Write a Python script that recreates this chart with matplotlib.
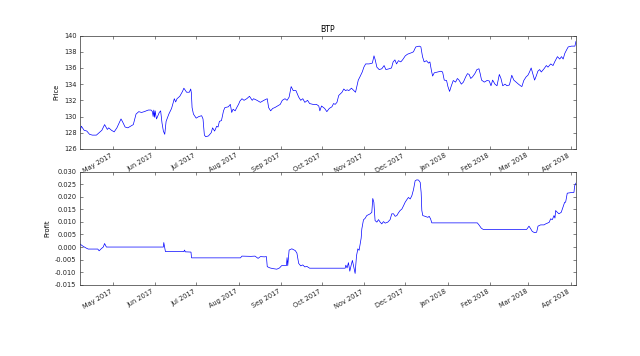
import numpy as np
import matplotlib
matplotlib.use("Agg")
import matplotlib.pyplot as plt
import matplotlib.dates as mdates
from datetime import datetime

# ---- data (x = days since 2017-04-07) ----
start_date = datetime(2017, 4, 7)
end_day = 362.9

price_days = [0, 1, 3, 5, 7, 9, 12, 14, 16, 18, 20, 21, 23, 25, 27, 30, 31, 33, 35, 37, 39,
              41, 43, 45, 47, 50, 52, 53, 53.5, 54, 54.5, 55, 55.5, 56, 58, 59, 60, 61, 62, 63,
              65, 67, 69, 70, 71, 73, 75, 76, 78, 80, 81, 81.5, 82, 83, 85, 87, 89, 90, 91, 92,
              94, 96, 97, 98.5, 100, 101, 102, 103.5, 105, 106, 108.5, 110, 111, 112, 113.5,
              115, 116, 117, 118.5, 120, 122, 124, 126, 127, 129.5, 132, 134.5, 137, 138,
              139.5, 141, 142.5, 144.5, 146.5, 148, 150, 151.5, 153, 154.5, 156, 158, 160,
              161.5, 163, 164.5, 166.5, 168, 170.5, 173, 174.7, 175.5, 176.7, 179, 180.6,
              182.4, 184.3, 185.5, 186.7, 188, 189.3, 190.5, 191.7, 193, 194.3, 195.5, 196.7,
              198.6, 200.4, 201.6, 202.4, 203.6, 204.8, 206.5, 207.7, 209, 211.5, 213.9, 215.1,
              216, 217.2, 218.9, 220.8, 222.5, 223.8, 226.2, 227.9, 229.1, 230.4, 231.6, 233,
              234.7, 236, 238, 239.6, 241.3, 242.8, 244, 244.8, 245.7, 248.2, 249.4, 250.6,
              251.8, 253.5, 255, 256, 257.2, 258, 259.2, 261.7, 264.1, 265.3, 266.5, 268.2,
              269.2, 270.4, 271.7, 273.1, 274.8, 276.1, 277.3, 279, 280.5, 282.2, 283.5, 284.7,
              285.9, 287.2, 288.9, 290.4, 291.9, 292.8, 293.8, 295.8, 297.8, 299.4, 300.7,
              301.9, 303.6, 305.1, 306.8, 308, 309.3, 311, 312.4, 314.2, 315.9, 317.4, 319.1,
              320.8, 322.3, 323.3, 324.7, 326.4, 327.7, 328.9, 330.1, 331.3, 332.6, 333.8, 335,
              336.3, 337.5, 339.5, 341.2, 342.4, 344.4, 346.1, 347.3, 349.3, 351, 352.3, 353.5,
              354.7, 355.9, 357.2, 359.6, 362.1, 362.6, 362.9]
price_vals = [128.2, 128.8, 128.3, 128.2, 127.8, 127.7, 127.7, 128.0, 128.3, 129.0, 128.4, 128.6,
              128.3, 128.1, 128.6, 129.7, 129.4, 128.7, 128.6, 128.8, 129.0, 130.3, 130.6, 130.5,
              130.6, 130.8, 130.8, 130.6, 130.0, 130.8, 129.9, 130.7, 130.1, 129.7, 130.5, 130.7,
              129.2, 128.2, 127.8, 129.4, 130.3, 131.0, 132.2, 131.8, 132.2, 132.5, 133.1, 133.5,
              133.0, 133.0, 133.4, 132.9, 131.1, 130.3, 129.8, 130.0, 130.1, 129.7, 127.7, 127.5,
              127.6, 128.0, 128.6, 128.2, 128.8, 128.7, 129.4, 129.5, 130.7, 131.1, 131.2, 131.5,
              130.5, 130.9, 130.7, 131.2, 131.5, 131.9, 132.2, 132.0, 132.2, 132.5, 132.0, 132.2,
              132.0, 131.75, 132.0, 132.2, 131.1, 130.7, 131.0, 131.1, 131.3, 131.5, 132.0,
              132.2, 132.0, 132.4, 133.7, 133.2, 133.2, 132.4, 132.0, 132.2, 131.75, 132.0,
              131.6, 131.5, 131.5, 131.3, 130.7, 131.3, 131.0, 130.6, 131.0, 131.2, 131.6,
              131.5, 131.75, 132.6, 132.8, 133.0, 133.4, 133.2, 133.3, 133.2, 133.5, 133.2,
              133.0, 133.6, 134.5, 134.9, 135.5, 136.1, 136.5, 136.5, 136.6, 137.5, 137.0,
              136.1, 135.8, 135.9, 136.3, 135.8, 135.9, 136.0, 136.75, 137.0, 136.5, 136.9,
              136.75, 137.0, 137.5, 137.7, 137.8, 137.9, 138.0, 138.3, 138.6, 138.7, 138.6,
              137.4, 136.75, 136.9, 136.6, 136.75, 135.6, 135.0, 135.4, 135.5, 135.6, 135.5,
              134.5, 134.45, 133.7, 133.1, 133.8, 134.45, 134.25, 134.7, 134.5, 134.0, 134.25,
              134.9, 135.3, 135.2, 134.7, 134.9, 135.3, 135.8, 135.9, 135.3, 134.5, 134.25,
              134.45, 134.4, 133.8, 134.5, 134.0, 133.8, 135.2, 134.7, 133.8, 134.0, 133.8,
              133.9, 135.1, 134.5, 134.25, 134.0, 133.8, 133.7, 134.45, 134.9, 135.1, 135.5,
              136.0, 135.3, 134.5, 135.0, 135.6, 135.8, 135.5, 135.9, 136.3, 136.1, 136.5,
              136.3, 136.75, 137.4, 137.1, 137.4, 137.1, 137.8, 138.2, 138.6, 138.7, 138.7,
              139.1, 139.3]

profit_days = [0, 2, 4.5, 6, 13, 14, 15.5, 17, 18, 19.3, 61, 61.3, 62.5, 76, 76.5, 77, 81.2,
               81.6, 117.4, 118.5, 125, 128, 130.3, 132, 135, 136.4, 137, 139, 141.5, 144, 146,
               147.5, 151, 151.5, 152, 153, 155, 157.5, 158.7, 160, 161.5, 163, 164.5, 166, 168,
               194.0, 194.5, 195.4, 196.4, 197.4, 198.4, 199.3, 200.6, 201.3, 202.3, 203.3,
               204.2, 205.7, 206.2, 207.4, 208.6, 209.8, 212.3, 213.5, 214.2, 215.0, 215.9,
               217.2, 218.4, 219.6, 220.8, 222.0, 223.3, 225.2, 226.9, 228.1, 229.4, 230.6,
               231.8, 233.0, 234.2, 235.5, 236.7, 237.9, 239.1, 240.3, 241.6, 242.8, 244.0,
               245.2, 246.4, 247.7, 248.9, 249.6, 250.1, 250.8, 252.5, 254.5, 255.5, 256.5,
               257.4, 290.7, 291.9, 293.6, 295.0, 326.8, 328.5, 329.7, 330.9, 332.6, 334.1,
               335.1, 337.0, 339.5, 340.7, 342.4, 343.4, 344.3, 345.6, 346.8, 347.5, 348.0,
               349.2, 350.4, 352.1, 353.6, 354.6, 355.3, 356.5, 360.2, 361.4, 361.9, 362.9]
profit_vals = [0.0012, 0.0004, -0.0004, -0.0008, -0.0008, -0.0015, -0.0007, 0.0, 0.0014, 0.0,
               0.0, 0.0018, -0.0018, -0.0018, -0.0012, -0.0019, -0.0020, -0.0043, -0.0043,
               -0.0036, -0.0037, -0.0036, -0.0045, -0.0038, -0.0039, -0.0038, -0.0078, -0.0083,
               -0.0086, -0.0088, -0.0083, -0.0074, -0.0074, -0.0042, -0.0074, -0.0012, -0.0007,
               -0.0014, -0.0024, -0.0065, -0.0075, -0.0071, -0.0079, -0.0077, -0.0084,
               -0.0084, -0.0072, -0.0083, -0.0062, -0.0096, -0.0072, -0.0053, -0.0086, -0.0105,
               -0.0035, -0.0007, -0.0013, 0.0035, 0.0072, 0.0108, 0.0114, 0.0125, 0.0132,
               0.0138, 0.0193, 0.0178, 0.0105, 0.0099, 0.0109, 0.0099, 0.0092, 0.0101, 0.0095,
               0.0099, 0.0109, 0.0132, 0.0132, 0.0122, 0.0125, 0.0136, 0.0145, 0.0151, 0.0164,
               0.0178, 0.0188, 0.0197, 0.0191, 0.0204, 0.0228, 0.0263, 0.0267, 0.0266, 0.0257,
               0.0217, 0.0145, 0.0125, 0.0122, 0.0118, 0.0122, 0.0112, 0.0096, 0.0096, 0.0088,
               0.0075, 0.0070, 0.0070, 0.0083, 0.0073, 0.0062, 0.0057, 0.0059, 0.0083, 0.0088,
               0.0088, 0.0092, 0.0096, 0.0099, 0.0112, 0.0109, 0.0125, 0.0115, 0.0145, 0.0138,
               0.0132, 0.0138, 0.0162, 0.0178, 0.0178, 0.0214, 0.0217, 0.0217, 0.0243, 0.0254]

title = "BTP"
price_label = "Price"
profit_label = "Profit"
price_ticks = [126, 128, 130, 132, 134, 136, 138, 140]
profit_ticks = [-0.015, -0.010, -0.005, 0.000, 0.005, 0.010, 0.015, 0.020, 0.025, 0.030]

# ---- plotting ----
plt.rcParams.update({
    "font.family": "DejaVu Sans",
    "font.size": 4.8,
    "axes.linewidth": 0.5,
    "axes.edgecolor": "#333333",
    "xtick.direction": "in",
    "ytick.direction": "in",
    "xtick.top": True,
    "ytick.right": True,
    "xtick.major.size": 2.5,
    "ytick.major.size": 2.5,
    "xtick.major.width": 0.4,
    "ytick.major.width": 0.4,
    "xtick.major.pad": 2.5,
    "ytick.major.pad": 2.5,
    "xtick.color": "#222222",
    "ytick.color": "#222222",
    "xtick.minor.visible": False,
})

fig = plt.figure(figsize=(6.4, 3.56), dpi=100)
ax1 = fig.add_subplot(2, 1, 1)
ax2 = fig.add_subplot(2, 1, 2)
fig.subplots_adjust(left=0.125, right=0.9, top=0.9, bottom=0.2, hspace=0.2)

base = mdates.date2num(start_date)
px = base + np.array(price_days)
qx = base + np.array(profit_days)

ax1.plot(px, price_vals, color="b", lw=0.5)
ax2.plot(qx, profit_vals, color="b", lw=0.5)

ax1.set_ylim(126, 140)
ax1.set_yticks(price_ticks)
ax2.set_ylim(-0.015, 0.030)
ax2.set_yticks(profit_ticks)
ax2.yaxis.set_major_formatter(matplotlib.ticker.FormatStrFormatter("%.3f"))

for ax in (ax1, ax2):
    ax.set_xlim(base, base + end_day)
    ax.xaxis_date()
    ax.xaxis.set_major_locator(mdates.MonthLocator())
    ax.xaxis.set_major_formatter(mdates.DateFormatter("%b %Y"))
    for lab in ax.get_xticklabels():
        lab.set_rotation(30)
        lab.set_ha("right")

ax1.set_title(title, fontsize=5.6, pad=2.5)
ax1.set_ylabel(price_label, labelpad=3)
ax2.set_ylabel(profit_label, labelpad=3)

fig.savefig("out.png", dpi=100, facecolor="white")
